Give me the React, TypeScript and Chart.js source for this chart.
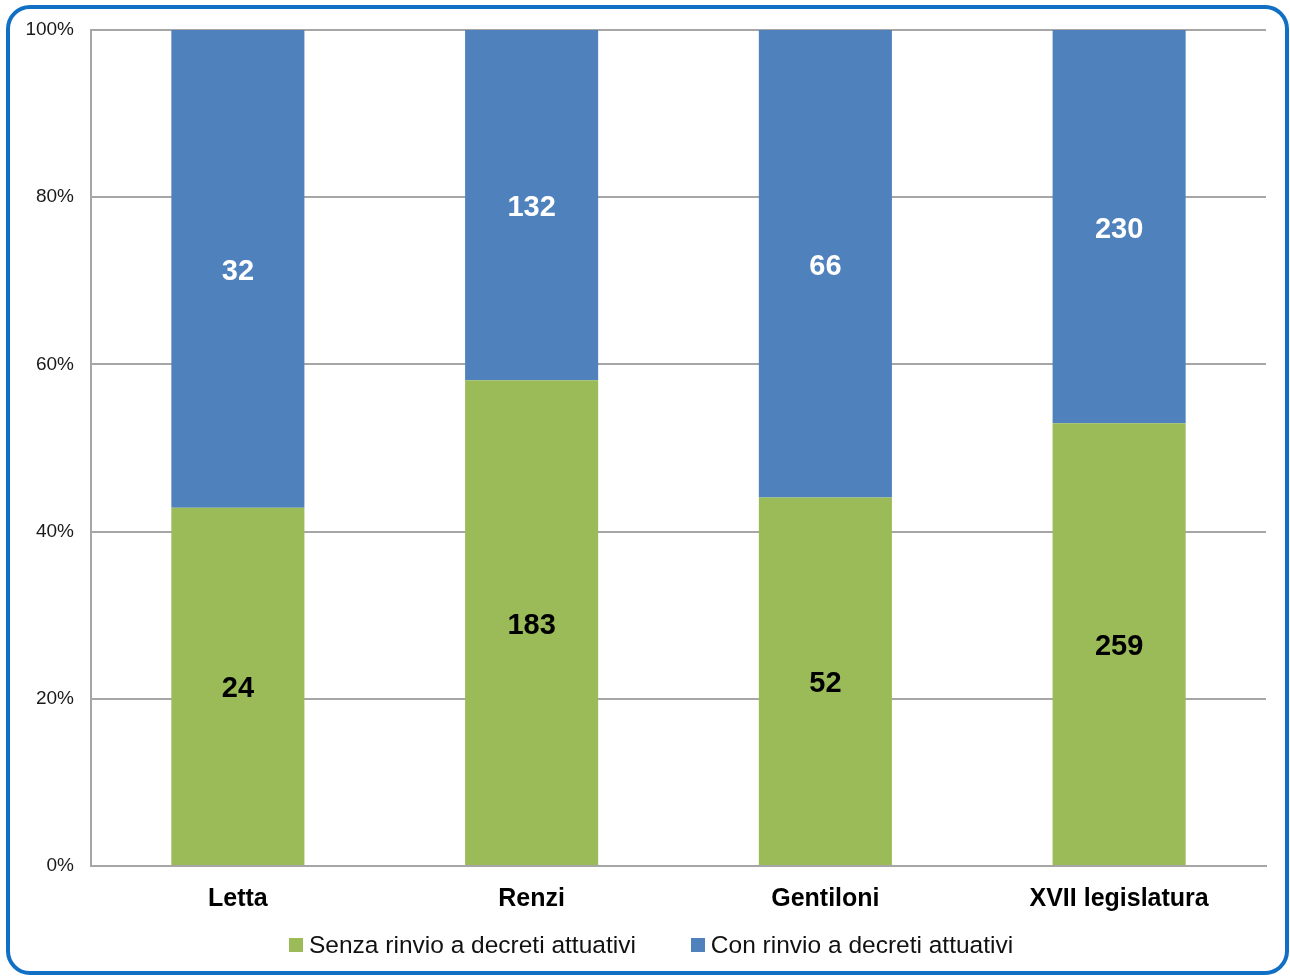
import React, { useEffect, useRef } from "react";
import { Chart, registerables } from "chart.js";

Chart.register(...registerables);

const categories = ["Letta", "Renzi", "Gentiloni", "XVII legislatura"];
const senzaRinvio = [24, 183, 52, 259];
const conRinvio = [32, 132, 66, 230];
const seriesNames = ["Senza rinvio a decreti attuativi", "Con rinvio a decreti attuativi"];
const yTicks = [0, 20, 40, 60, 80, 100];

const GREEN = "#9BBB59";
const BLUE = "#4F81BD";
const GRID = "#A6A6A6";
const FONT = "'Liberation Sans', Arial, Helvetica, sans-serif";

const totals = categories.map((_, i) => senzaRinvio[i] + conRinvio[i]);
const senzaPct = senzaRinvio.map((v, i) => (v / totals[i]) * 100);
const conPct = conRinvio.map((v, i) => (v / totals[i]) * 100);

const segLabels = {
  id: "segLabels",
  afterDatasetsDraw(chart: any) {
    const ctx = chart.ctx;
    chart.data.datasets.forEach((ds: any, di: number) => {
      const meta = chart.getDatasetMeta(di);
      meta.data.forEach((bar: any, i: number) => {
        const { x, y, base } = bar.getProps(["x", "y", "base"], true);
        ctx.save();
        ctx.font = `bold 29px ${FONT}`;
        ctx.fillStyle = ds.labelColor;
        ctx.textAlign = "center";
        ctx.textBaseline = "middle";
        ctx.fillText(String(ds.counts[i]), x, (y + base) / 2 + 3);
        ctx.restore();
      });
    });
  },
};

export default function App() {
  const ref = useRef<HTMLCanvasElement | null>(null);

  useEffect(() => {
    if (!ref.current) return;
    const chart = new Chart(ref.current, {
      type: "bar",
      data: {
        labels: categories,
        datasets: [
          {
            label: seriesNames[0],
            data: senzaPct,
            backgroundColor: GREEN,
            borderWidth: 0,
            barPercentage: 0.453,
            categoryPercentage: 1,
            counts: senzaRinvio,
            labelColor: "#000000",
          } as any,
          {
            label: seriesNames[1],
            data: conPct,
            backgroundColor: BLUE,
            borderWidth: 0,
            barPercentage: 0.453,
            categoryPercentage: 1,
            counts: conRinvio,
            labelColor: "#FFFFFF",
          } as any,
        ],
      },
      options: {
        animation: false,
        responsive: false,
        maintainAspectRatio: false,
        layout: { padding: { left: 0, right: 24, top: 30, bottom: 63 } },
        plugins: {
          legend: { display: false },
          tooltip: { enabled: false },
        },
        scales: {
          x: {
            stacked: true,
            grid: { display: false, drawTicks: false },
            border: { display: true, color: GRID, width: 2 },
            ticks: {
              color: "#000000",
              font: { family: FONT, size: 25, weight: "bold" },
              padding: 18,
            },
            afterFit: (scale: any) => {
              scale.height = 47;
            },
          },
          y: {
            stacked: true,
            min: 0,
            max: 100,
            afterBuildTicks: (scale: any) => {
              scale.ticks = yTicks.map((v) => ({ value: v }));
            },
            grid: { color: GRID, lineWidth: 2, drawTicks: false },
            border: { display: true, color: GRID, width: 2 },
            ticks: {
              color: "#1a1a1a",
              font: { family: FONT, size: 19 },
              padding: 17,
              callback: (v: any) => `${v}%`,
            },
            afterFit: (scale: any) => {
              scale.width = 91;
            },
          },
        },
      },
      plugins: [segLabels],
    });
    return () => chart.destroy();
  }, []);

  const legendColors = [GREEN, BLUE];

  return (
    <div
      style={{
        position: "fixed",
        left: 0,
        top: 0,
        width: 1290,
        height: 976,
        background: "#ffffff",
        overflow: "hidden",
      }}
    >
      <canvas
        ref={ref}
        width={1290}
        height={976}
        style={{ position: "absolute", left: 0, top: 0, width: 1290, height: 976 }}
      />
      <div
        style={{
          position: "absolute",
          left: 289,
          top: 931,
          display: "flex",
          alignItems: "center",
          gap: 55,
          fontFamily: FONT,
          fontSize: 24.5,
          lineHeight: "28px",
          color: "#111111",
          whiteSpace: "nowrap",
        }}
      >
        {seriesNames.map((name, i) => (
          <div key={name} style={{ display: "flex", alignItems: "center" }}>
            <span
              style={{
                display: "inline-block",
                width: 14,
                height: 14,
                background: legendColors[i],
                marginRight: 6,
              }}
            />
            <span>{name}</span>
          </div>
        ))}
      </div>
      <div
        style={{
          position: "absolute",
          left: 6,
          top: 5,
          width: 1283,
          height: 970,
          border: "4px solid #1170C4",
          borderRadius: 24,
          boxSizing: "border-box",
          pointerEvents: "none",
        }}
      />
    </div>
  );
}
